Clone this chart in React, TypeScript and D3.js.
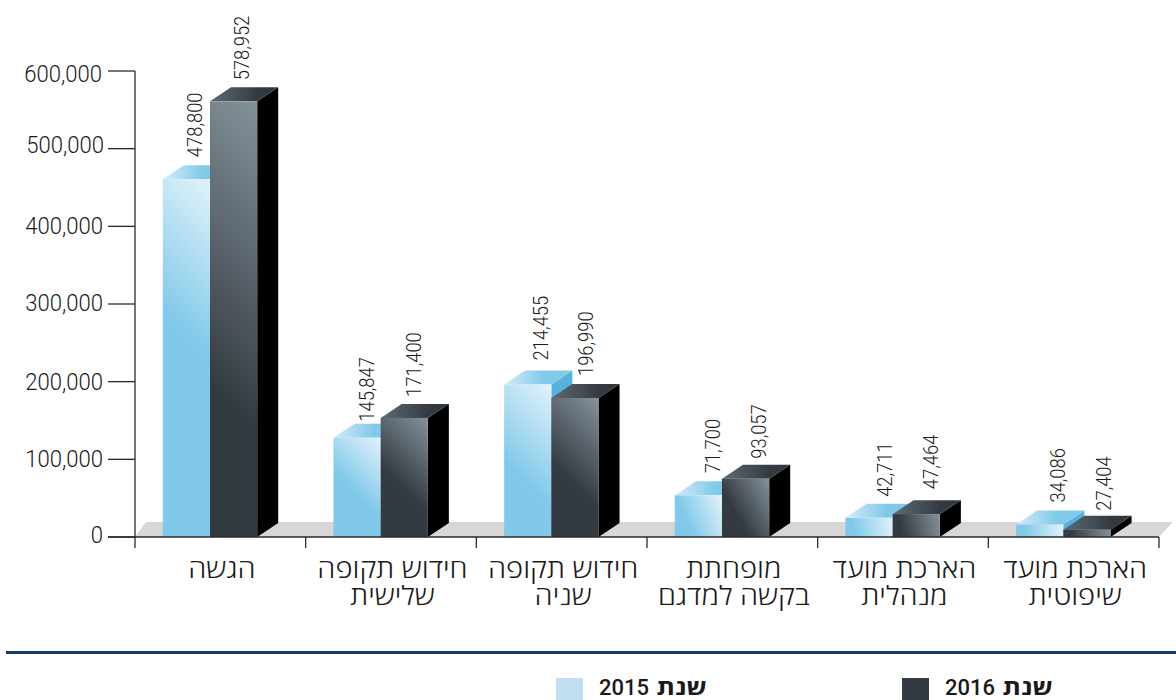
import React from "react";
import * as d3 from "d3";

const categories = [
  ["הגשה"],
  ["חידוש תקופה", "שלישית"],
  ["חידוש תקופה", "שניה"],
  ["מופחתת", "בקשה למדגם"],
  ["הארכת מועד", "מנהלית"],
  ["הארכת מועד", "שיפוטית"],
];
const values2015 = [478800, 145847, 214455, 71700, 42711, 34086];
const values2016 = [578952, 171400, 196990, 93057, 47464, 27404];
const yTicks = [0, 100000, 200000, 300000, 400000, 500000, 600000];

const yLabelNudge = [-2, -1, 0, -1, -1, -4, 3];
const yLabelRight = [103, 103, 103, 103, 103, 104, 102];
const labelX2015 = [39, 40.5, 44, 45, 46.5, 49];
const labelX2016 = [38.5, 40, 42, 44, 45.6, 48];
const labelGap2015 = [8, 2, 10, 8, 7, 8];
const labelGap2016 = [7, 7, 8, 6, 11, 5];

const legendItems = [
  { word: "שנת", year: "2016", color: "#343a42", x: 902 },
  { word: "שנת", year: "2015", color: "#c0dff0", x: 556 },
];

const W = 1176, H = 700;
const DX = 21, DY = 14;
const BAR_W = 47.2, BAR_OFF = 27.8;
const NUM = "Roboto, sans-serif";
const HEB = "'Open Sans', 'Liberation Sans', sans-serif";

const x = d3.scaleBand<number>().domain(d3.range(categories.length)).range([135, 1159]);
const y = d3.scaleLinear().domain([0, 600000]).range([537, 71]);
const fmt = d3.format(",");

function frontGrad(left: number, value: number, kind: "l" | "d") {
  const back = y(value);
  const front = Math.min(back + DY, y(0));
  const h = y(0) - front;
  const r = left + BAR_W;
  const dy = Math.min(0.4 * h, kind === "l" ? 90 : 165);
  const dx = Math.max(dy, 40);
  return { x1: r, y1: front, x2: r - dx, y2: front + dy };
}

function Bar({ id, left, value, kind }: { id: string; left: number; value: number; kind: "l" | "d" }) {
  const back = y(value);
  const front = Math.min(back + DY, y(0));
  const r = left + BAR_W;
  const base = y(0);
  const poly = (p: number[][]) => p.map((q) => q.join(",")).join(" ");
  const g = frontGrad(left, value, kind);
  return (
    <g>
      <defs>
        <linearGradient id={id} gradientUnits="userSpaceOnUse" x1={g.x1} y1={g.y1} x2={g.x2} y2={g.y2}>
          <stop offset="0" stopColor={kind === "l" ? "#e2f2fa" : "#84929a"} />
          <stop offset="1" stopColor={kind === "l" ? "#80c9e9" : "#343a42"} />
        </linearGradient>
      </defs>
      <polygon points={poly([[r, front], [r + DX, back], [r + DX, base - DY], [r, base]])} fill={kind === "l" ? "#56b4dc" : "#000"} />
      <polygon points={poly([[left, front], [left + DX, back], [r + DX, back], [r, front]])} fill={`url(#top-${kind})`} />
      <rect x={left} y={front} width={BAR_W} height={base - front} fill={`url(#${id})`} />
    </g>
  );
}

export default function App() {
  return (
    <svg width={W} height={H} viewBox={`0 0 ${W} ${H}`} style={{ position: "absolute", left: 0, top: 0, display: "block", background: "#fff" }}>
      <defs>
        <linearGradient id="top-l" x1="0" y1="0" x2="1" y2="0">
          <stop offset="0" stopColor="#d4ecf8" />
          <stop offset="0.6" stopColor="#80c9e9" />
          <stop offset="1" stopColor="#80c9e9" />
        </linearGradient>
        <linearGradient id="top-d" x1="0" y1="0" x2="1" y2="0">
          <stop offset="0" stopColor="#5e6a72" />
          <stop offset="0.7" stopColor="#343a42" />
          <stop offset="1" stopColor="#30363d" />
        </linearGradient>
      </defs>

      <polygon points={`135,${y(0)} 146,${y(0) - 15} 1173,${y(0) - 15} 1159,${y(0)}`} fill="#d8d6d7" />

      {values2015.map((v, i) => {
        const left = (x(i) as number) + BAR_OFF;
        return (
          <g key={i}>
            <Bar id={`f15-${i}`} left={left} value={v} kind="l" />
            <Bar id={`f16-${i}`} left={left + BAR_W} value={values2016[i]} kind="d" />
          </g>
        );
      })}

      <g stroke="#2b2b2b" strokeWidth={1.3} fill="none">
        <line x1={135} x2={135} y1={y(600000)} y2={548} />
        <line x1={108} x2={1159} y1={y(0)} y2={y(0)} />
        {yTicks.map((t) => <line key={t} x1={108} x2={135} y1={y(t)} y2={y(t)} />)}
        {categories.map((_, i) => <line key={i} x1={(x(i) as number) + x.bandwidth()} x2={(x(i) as number) + x.bandwidth()} y1={y(0)} y2={548} />)}
      </g>

      {yTicks.map((t, i) => (
        <text key={t} transform={`translate(${yLabelRight[i]},${y(t) + 8.3 + yLabelNudge[i]}) scale(0.94,1)`} textAnchor="end" fontFamily={NUM} fontWeight={300} fontSize={23.5} fill="#1a1a1a">{fmt(t)}</text>
      ))}

      {values2015.map((v, i) => {
        const left = (x(i) as number) + BAR_OFF;
        return (
          <g key={i} fontFamily={NUM} fontWeight={300} fontSize={21} fill="#1a1a1a">
            <text transform={`translate(${left + labelX2015[i]},${y(v) - labelGap2015[i]}) rotate(-90) scale(0.875,1)`}>{fmt(v)}</text>
            <text transform={`translate(${left + BAR_W + labelX2016[i]},${y(values2016[i]) - labelGap2016[i]}) rotate(-90) scale(0.875,1)`}>{fmt(values2016[i])}</text>
          </g>
        );
      })}

      {categories.map((lines, i) => (
        <g key={i} fontFamily={HEB} fontWeight={300} fontSize={26} fill="#1a1a1a" textAnchor="middle">
          {lines.map((l, j) => (
            <text key={j} transform={`translate(${(x(i) as number) + x.bandwidth() / 2 + 1.5},${578 + j * 26.5}) scale(1.12,1)`} direction="rtl">{l}</text>
          ))}
        </g>
      ))}

      <rect x={6} y={651} width={1170} height={3} fill="#0d3c6e" />

      {legendItems.map((d) => (
        <g key={d.year} fill="#1a1a1a">
          <rect x={d.x} y={678} width={27} height={22} fill={d.color} />
          <text x={d.x + 43} y={695} fontFamily={NUM} fontWeight={500} fontSize={22}>{d.year}</text>
          <text transform={`translate(${d.x + 151},695) scale(1.2,1)`} textAnchor="end" direction="ltr" fontFamily={HEB} fontWeight={700} fontSize={22}>{d.word}</text>
        </g>
      ))}
    </svg>
  );
}
